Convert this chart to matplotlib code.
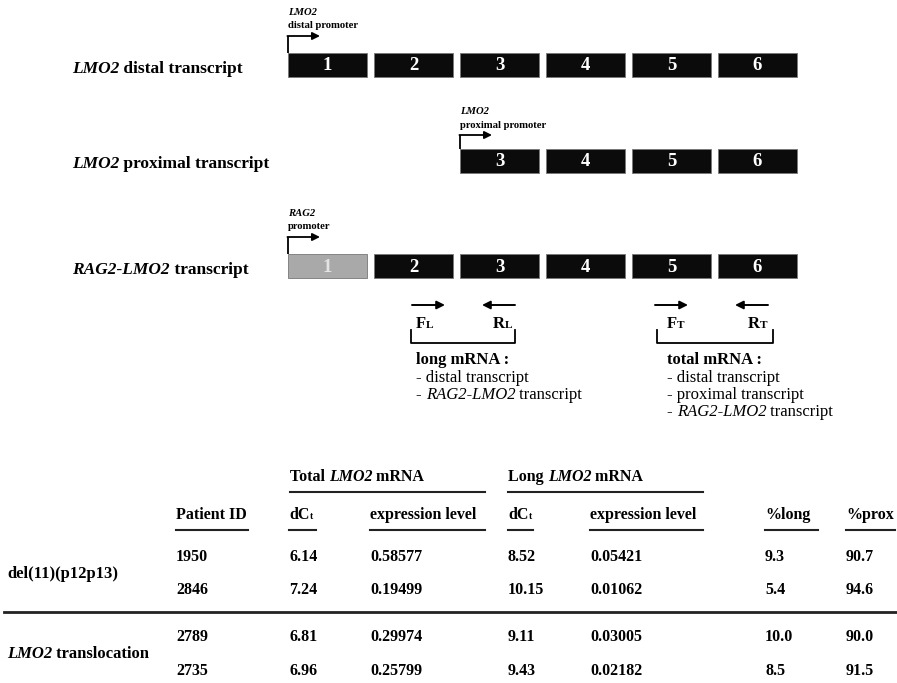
import matplotlib
matplotlib.use("Agg")
import matplotlib.pyplot as plt
from matplotlib.patches import Rectangle

W, H = 897, 683
SERIF = "Liberation Serif"

# ---- gene structure -------------------------------------------------------
exon_numbers = [1, 2, 3, 4, 5, 6]
transcript_names = [
    [("LMO2", "italic"), (" distal transcript", "normal")],
    [("LMO2", "italic"), (" proximal transcript", "normal")],
    [("RAG2-LMO2", "italic"), (" transcript", "normal")],
]
transcript_exons = [[1, 2, 3, 4, 5, 6], [3, 4, 5, 6], [1, 2, 3, 4, 5, 6]]
foreign_exons = [[], [], [1]]          # exons from another gene (grey)
promoter_gene = ["LMO2", "LMO2", "RAG2"]
promoter_text = ["distal promoter", "proximal promoter", "promoter"]

# ---- primers ----------------------------------------------------------------
primer_names = [("F", "L"), ("R", "L"), ("F", "T"), ("R", "T")]
primer_dirs = [1, -1, 1, -1]
amplicon_titles = ["long mRNA :", "total mRNA :"]
amplicon_targets = [
    [[("- distal transcript", "normal")],
     [("- ", "normal"), ("RAG2-LMO2", "italic"), (" transcript", "normal")]],
    [[("- distal transcript", "normal")],
     [("- proximal transcript", "normal")],
     [("- ", "normal"), ("RAG2-LMO2", "italic"), (" transcript", "normal")]],
]

# ---- table ------------------------------------------------------------------
group_names = [[("del(11)(p12p13)", "normal")],
               [("LMO2", "italic"), (" translocation", "normal")]]
patient_ids = ["1950", "2846", "2789", "2735"]
total_dct = [6.14, 7.24, 6.81, 6.96]
total_expr = [0.58577, 0.19499, 0.29974, 0.25799]
long_dct = [8.52, 10.15, 9.11, 9.43]
long_expr = [0.05421, 0.01062, 0.03005, 0.02182]
pct_long = [9.3, 5.4, 10.0, 8.5]
pct_prox = [90.7, 94.6, 90.0, 91.5]

fig = plt.figure(figsize=(W / 100, H / 100), dpi=100)
ax = fig.add_axes([0, 0, 1, 1])
ax.set_xlim(0, W)
ax.set_ylim(H, 0)
ax.axis("off")
renderer = fig.canvas.get_renderer()


def rich(x, yc, parts, size, weight="bold", ha="left", color="black"):
    """Draw a run of text pieces on one baseline.
    parts: (text, style) or (text, style, scale)."""
    px = size * 100 / 72
    base = yc + 0.33 * px
    cx = x
    made = []
    for p in parts:
        s, style = p[0], p[1]
        scale = p[2] if len(p) > 2 else 1.0
        t = ax.text(cx, base, s, fontsize=size * scale, fontstyle=style,
                    fontweight=weight, family=SERIF, va="baseline",
                    ha="left", color=color)
        cx += t.get_window_extent(renderer).width
        made.append(t)
    total = cx - x
    shift = {"left": 0, "center": -total / 2, "right": -total}[ha]
    if shift:
        for t in made:
            t.set_x(t.get_position()[0] + shift)
    return total


# ---- transcripts ------------------------------------------------------------
row_top = [53, 149, 254]
label_y = [67, 162, 268]
prom_gene_y = [11, 110, 212]
prom_text_y = [24, 124, 225]
prom_arrow_y = [36, 135, 237]
exon_x0, exon_pitch, exon_w, exon_h = 288, 86, 79, 24

for r in range(3):
    rich(72, label_y[r], transcript_names[r], 12.5)
    for n in transcript_exons[r]:
        x = exon_x0 + exon_pitch * (n - 1)
        grey = n in foreign_exons[r]
        ax.add_patch(Rectangle((x, row_top[r]), exon_w, exon_h,
                               facecolor="#a9a9a9" if grey else "#0b0b0b",
                               edgecolor="#777777", lw=0.6))
        ax.text(x + exon_w / 2, row_top[r] + exon_h / 2 + 1, str(n),
                fontsize=13.5, fontweight="bold", family=SERIF,
                color="#e4e4e4" if grey else "white",
                ha="center", va="center")
    px0 = exon_x0 + exon_pitch * (transcript_exons[r][0] - 1)
    ax.plot([px0, px0], [row_top[r], prom_arrow_y[r]], color="black",
            lw=1.3, solid_capstyle="butt")
    ax.annotate("", xy=(px0 + 32, prom_arrow_y[r]),
                xytext=(px0 - 0.6, prom_arrow_y[r]),
                arrowprops=dict(arrowstyle="-|>", color="black", lw=1.3,
                                mutation_scale=11, shrinkA=0, shrinkB=0))
    rich(px0, prom_gene_y[r], [(promoter_gene[r], "italic")], 7.7)
    rich(px0, prom_text_y[r], [(promoter_text[r], "normal")], 7.7)

# ---- primers ----------------------------------------------------------------
primer_x = [412, 482, 655, 735]
primer_label_x = [416, 493, 667, 748]
arrow_len = 33
for i, (big, small) in enumerate(primer_names):
    x0 = primer_x[i]
    if primer_dirs[i] > 0:
        start, end = x0, x0 + arrow_len
    else:
        start, end = x0 + arrow_len, x0
    ax.annotate("", xy=(end, 305), xytext=(start, 305),
                arrowprops=dict(arrowstyle="-|>", color="black", lw=1.4,
                                mutation_scale=12, shrinkA=0, shrinkB=0))
    rich(primer_label_x[i], 323, [(big, "normal"), (small, "normal", 0.68)], 12)

bracket_x = [(411, 515), (657, 773)]
text_x = [416, 667]
for k, (a, b) in enumerate(bracket_x):
    ax.plot([a, a, b, b], [330, 343, 343, 330], color="black", lw=1.3)
    rich(text_x[k], 358, [(amplicon_titles[k], "normal")], 12)
    for j, line in enumerate(amplicon_targets[k]):
        rich(text_x[k], 376 + 17.2 * j, line, 12, weight="normal")

# ---- table ------------------------------------------------------------------
TS = 11.5
rich(290, 476, [("Total ", "normal"), ("LMO2", "italic"), (" mRNA", "normal")], TS)
rich(508, 476, [("Long ", "normal"), ("LMO2", "italic"), (" mRNA", "normal")], TS)
for a, b in [(290, 485), (508, 703)]:
    ax.plot([a, b], [492, 492], color="#222222", lw=1.5)

col_x = [176, 289, 370, 508, 590, 765, 846]
col_heads = [[("Patient ID", "normal")],
             [("dC", "normal"), ("t", "normal", 0.6)],
             [("expression level", "normal")],
             [("dC", "normal"), ("t", "normal", 0.6)],
             [("expression level", "normal")],
             [("%long", "normal")],
             [("%prox", "normal")]]
col_line_end = [248, 316, 485, 533, 703, 818, 895]
for cx, head, ce in zip(col_x, col_heads, col_line_end):
    rich(cx, 514, head, TS)
    ax.plot([cx, ce], [530, 530], color="#222222", lw=1.5)

row_y = [556, 589, 636, 670]
columns = [patient_ids,
           [f"{v:.2f}" for v in total_dct],
           [f"{v:.5f}" for v in total_expr],
           [f"{v:.2f}" for v in long_dct],
           [f"{v:.5f}" for v in long_expr],
           [f"{v:.1f}" for v in pct_long],
           [f"{v:.1f}" for v in pct_prox]]
for cx, vals in zip(col_x, columns):
    for y, v in zip(row_y, vals):
        rich(cx, y, [(v, "normal")], TS)

group_y = [(row_y[0] + row_y[1]) / 2, (row_y[2] + row_y[3]) / 2]
for gy, name in zip(group_y, group_names):
    rich(7, gy, name, 12)

ax.plot([4, W], [612, 612], color="#222222", lw=2.0)

fig.savefig("out.png", dpi=100, facecolor="white")
